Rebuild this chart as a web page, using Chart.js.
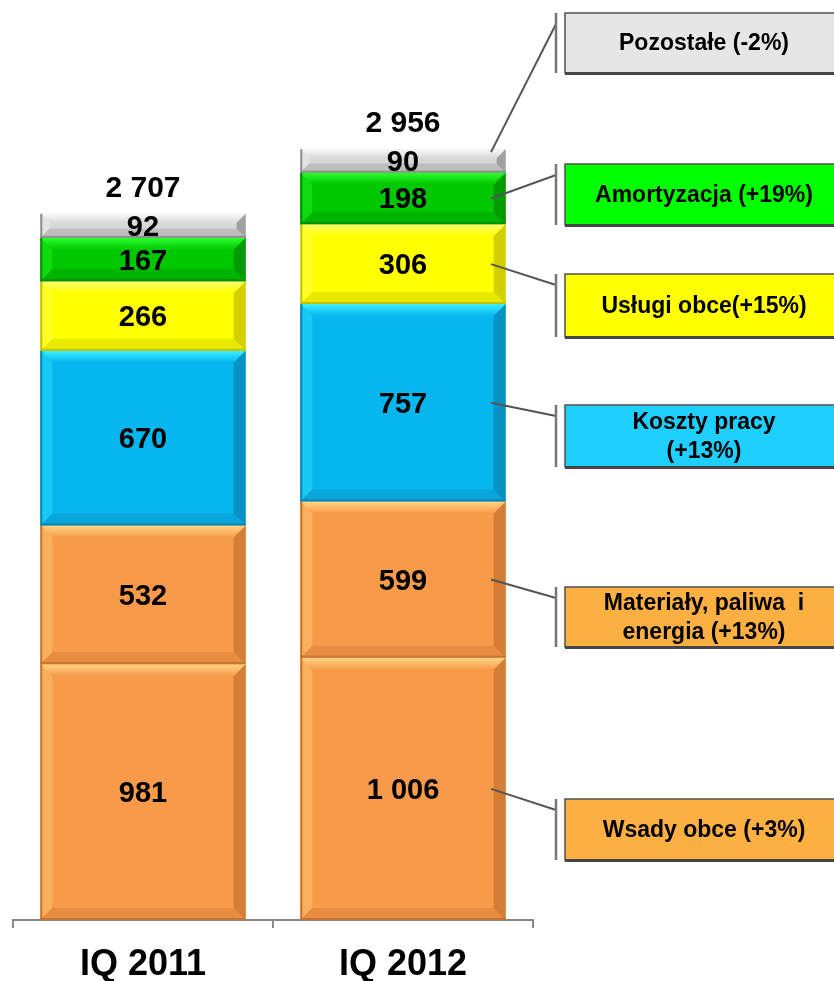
<!DOCTYPE html>
<html>
<head>
<meta charset="utf-8">
<script src="https://cdn.jsdelivr.net/npm/chart.js@4/dist/chart.umd.min.js"></script>
<style>
  html, body { margin: 0; padding: 0; background: #fff; }
  canvas { display: block; }
</style>
</head>
<body>
<canvas id="myChart" width="834" height="981"></canvas>
<script>
// koszty rodzajowe - kwartał do kwartału
var kategorie = ["IQ 2011", "IQ 2012"];
var wsadyObce = [981, 1006];
var materialy = [532, 599];
var kosztyPracy = [670, 757];
var uslugiObce = [266, 306];
var amortyzacja = [167, 198];
var pozostale = [92, 90];
var sumy = [2707, 2956];

// opisy w ramkach po prawej (kolejność jak serie, od dołu)
var opisy = [
    ["Wsady obce (+3%)"],
    ["Materiały, paliwa  i", "energia (+13%)"],
    ["Koszty pracy", "(+13%)"],
    ["Usługi obce(+15%)"],
    ["Amortyzacja (+19%)"],
    ["Pozostałe (-2%)"]
];

var FONT = "'Liberation Sans', Arial, sans-serif";

// kolory słupków: podstawa, jasna krawędź, ciemna krawędź
var kolory = [
    { base: "#F79A4A", light: "#FFD684", dark: "#C8732E", ramka: "#FDB042" },
    { base: "#F79A4A", light: "#FFD684", dark: "#C8732E", ramka: "#FDB042" },
    { base: "#06B6EE", light: "#3AF0FF", dark: "#0A86B4", ramka: "#1ECFFF" },
    { base: "#FFFF00", light: "#FFFF70", dark: "#C4C000", ramka: "#FFFF00" },
    { base: "#00C800", light: "#2CFF2C", dark: "#008C00", ramka: "#00FF00" },
    { base: "#D8D8D8", light: "#FAFAFA", dark: "#8E8E8E", ramka: "#E6E6E6" }
];

// położenie ramek z opisami (góra, dół)
var ramki = [[799, 860], [587, 647], [405, 467], [274, 337], [164, 225], [13, 73]];

function formatuj(n) {
    return String(n).replace(/\B(?=(\d{3})+(?!\d))/g, " ");
}

function shade(ctx, pts, color) {
    ctx.beginPath();
    ctx.moveTo(pts[0][0], pts[0][1]);
    for (var i = 1; i < pts.length; i++) {
        ctx.lineTo(pts[i][0], pts[i][1]);
    }
    ctx.closePath();
    ctx.fillStyle = color;
    ctx.fill();
}

// efekt "wypukłego" słupka
var fazowanie = {
    id: "fazowanie",
    afterDatasetsDraw: function (chart) {
        var ctx = chart.ctx;
        ctx.save();
        chart.data.datasets.forEach(function (ds, di) {
            var k = kolory[di];
            chart.getDatasetMeta(di).data.forEach(function (el) {
                var p = el.getProps(["x", "y", "base", "width"], true);
                var L = p.x - p.width / 2, R = p.x + p.width / 2;
                var T = Math.min(p.y, p.base), B = Math.max(p.y, p.base);
                var s = Math.min(12, (B - T) / 2.6);

                var gTop = ctx.createLinearGradient(0, T, 0, T + s);
                gTop.addColorStop(0, k.light);
                gTop.addColorStop(1, k.base);
                shade(ctx, [[L, T], [R, T], [R - s, T + s], [L + s, T + s]], gTop);

                ctx.globalAlpha = 0.35;
                shade(ctx, [[L, T], [L + s, T + s], [L + s, B - s], [L, B]], k.light);
                ctx.globalAlpha = 0.75;
                shade(ctx, [[R, T], [R, B], [R - s, B - s], [R - s, T + s]], k.dark);
                ctx.globalAlpha = 0.35;
                shade(ctx, [[L, B], [R, B], [R - s, B - s], [L + s, B - s]], k.dark);
                ctx.globalAlpha = 1;

                ctx.fillStyle = k.dark;
                ctx.fillRect(L, B - 2, p.width, 2);
                ctx.fillRect(L, T, 2, B - T);
            });
        });
        ctx.restore();
    }
};

// wartości w słupkach, sumy, ramki z opisami
var etykiety = {
    id: "etykiety",
    afterDraw: function (chart) {
        var ctx = chart.ctx;
        ctx.save();
        ctx.textAlign = "center";
        ctx.textBaseline = "middle";
        ctx.fillStyle = "#000";
        ctx.font = "bold 29px " + FONT;

        chart.data.datasets.forEach(function (ds, di) {
            chart.getDatasetMeta(di).data.forEach(function (el, i) {
                var p = el.getProps(["x", "y", "base"], true);
                ctx.fillText(formatuj(ds.data[i]), p.x, (p.y + p.base) / 2 + 2);
            });
        });

        ctx.font = "bold 30px " + FONT;
        var ostatni = chart.getDatasetMeta(chart.data.datasets.length - 1).data;
        ostatni.forEach(function (el, i) {
            var p = el.getProps(["x", "y"], true);
            ctx.fillText(formatuj(sumy[i]), p.x, p.y - 25);
        });

        // ramki i łączniki do drugiego słupka
        var bx = 565, br = 843, kx = 556;
        chart.data.datasets.forEach(function (ds, di) {
            var el = chart.getDatasetMeta(di).data[1];
            var p = el.getProps(["x", "y", "base", "width"], true);
            var top = ramki[di][0], bottom = ramki[di][1];
            var ay = di === 5 ? p.y + 3 : (p.y + p.base) / 2;

            ctx.strokeStyle = "#555";
            ctx.lineWidth = 2;
            ctx.beginPath();
            ctx.moveTo(p.x + 88, ay);
            ctx.lineTo(kx, top + 11);
            ctx.stroke();

            ctx.strokeStyle = "#777";
            ctx.lineWidth = 2.5;
            ctx.beginPath();
            ctx.moveTo(kx, top);
            ctx.lineTo(kx, bottom);
            ctx.stroke();

            ctx.fillStyle = kolory[di].ramka;
            ctx.fillRect(bx, top, br - bx, bottom - top);
            ctx.strokeStyle = "#505050";
            ctx.lineWidth = 1.5;
            ctx.strokeRect(bx, top, br - bx, bottom - top);
            ctx.fillStyle = "#454545";
            ctx.fillRect(bx, bottom - 1, br - bx, 3);

            ctx.fillStyle = "#000";
            ctx.font = "bold 23px " + FONT;
            var linie = opisy[di];
            var srodek = (top + bottom) / 2;
            var lh = 29;
            linie.forEach(function (t, li) {
                ctx.fillText(t, (bx + br) / 2, srodek + (li - (linie.length - 1) / 2) * lh + 1);
            });
        });
        ctx.restore();
    }
};

var serie = [
    { label: "Wsady obce", data: wsadyObce },
    { label: "Materiały, paliwa i energia", data: materialy },
    { label: "Koszty pracy", data: kosztyPracy },
    { label: "Usługi obce", data: uslugiObce },
    { label: "Amortyzacja", data: amortyzacja },
    { label: "Pozostałe", data: pozostale }
];

var datasets = serie.map(function (s, i) {
    return {
        label: s.label,
        data: s.data,
        backgroundColor: kolory[i].base,
        borderWidth: 0,
        barPercentage: 1,
        categoryPercentage: 0.79
    };
});

var ctx = document.getElementById("myChart").getContext("2d");
var myChart = new Chart(ctx, {
    type: "bar",
    data: {
        labels: kategorie,
        datasets: datasets
    },
    options: {
        responsive: false,
        animation: false,
        devicePixelRatio: 1,
        layout: { padding: { left: 13, right: 301, top: 0, bottom: 0 } },
        plugins: {
            legend: { display: false },
            tooltip: { enabled: false }
        },
        scales: {
            x: {
                stacked: true,
                offset: true,
                afterFit: function (scale) {
                    scale.height = 61;
                },
                grid: {
                    display: true,
                    offset: true,
                    drawOnChartArea: false,
                    drawTicks: true,
                    tickLength: 8,
                    color: "#888",
                    lineWidth: 2
                },
                border: { display: true, color: "#888", width: 2 },
                ticks: {
                    color: "#000",
                    padding: 23,
                    font: { family: FONT, size: 36, weight: "bold", lineHeight: 0.8 }
                }
            },
            y: {
                stacked: true,
                display: false,
                min: 0,
                max: 3528
            }
        }
    },
    plugins: [fazowanie, etykiety]
});
</script>
</body>
</html>
